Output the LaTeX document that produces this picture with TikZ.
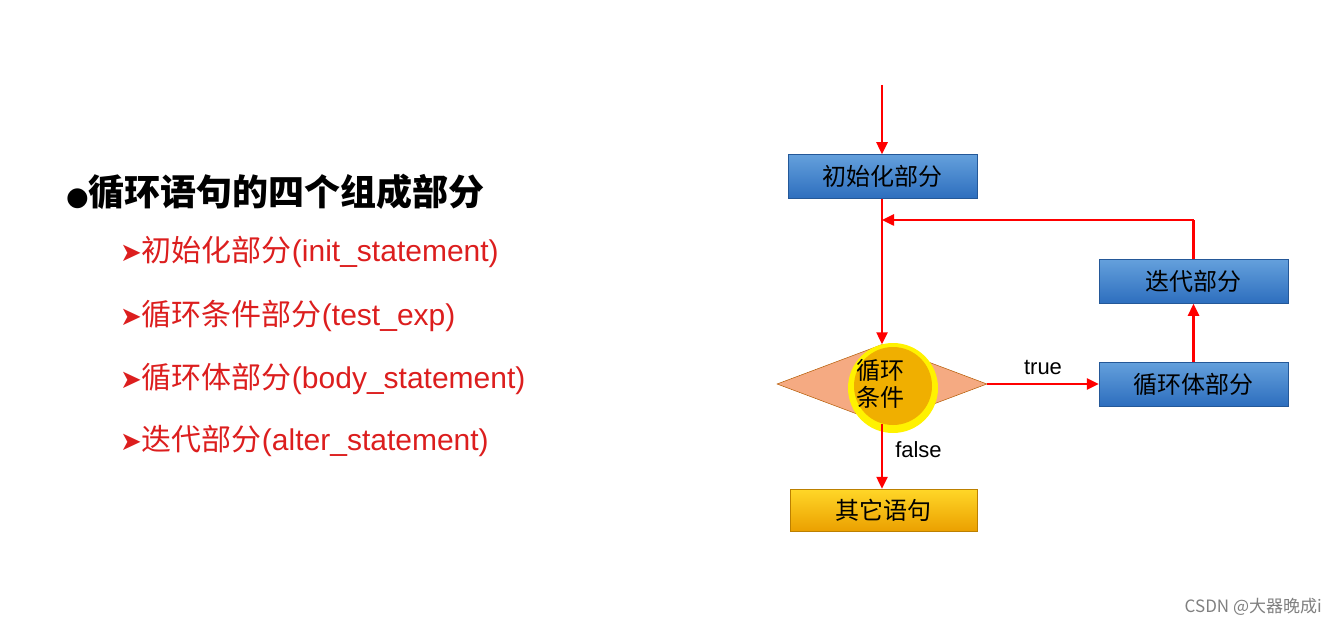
\documentclass[tikz,border=0pt]{standalone}
\usepackage{fontspec}
\setmainfont{Liberation Sans}
\newfontfamily\cjk{Noto Sans CJK SC}
\newfontfamily\djv{DejaVu Sans}
\usetikzlibrary{shapes.geometric,arrows.meta}
\definecolor{bluetop}{RGB}{100,160,220}
\definecolor{bluebot}{RGB}{45,110,190}
\definecolor{ytop}{RGB}{255,215,40}
\definecolor{ybot}{RGB}{235,160,0}
\definecolor{itemred}{RGB}{220,30,30}
\definecolor{diafill}{RGB}{245,170,130}
\definecolor{circfill}{RGB}{240,175,0}
\newcommand{\arr}{{\djv\fontsize{26}{28}\selectfont➤}}
\tikzset{
 bbox/.style={rectangle,minimum width=189pt,minimum height=44pt,top color=bluetop,bottom color=bluebot,draw=bluebot!80!black,line width=0.5pt,font=\cjk\fontsize{24}{26}\selectfont,text=black,inner sep=0pt},
 ybox/.style={bbox,top color=ytop,bottom color=ybot,draw=ybot!80!black,minimum width=187pt,minimum height=42pt},
 flow/.style={draw=red,line width=2.5pt,-{Triangle[length=12pt,width=11pt]}},
 item/.style={anchor=west,text=itemred,font=\fontsize{30}{32}\selectfont,inner sep=0pt},
 lbl/.style={font=\fontsize{22}{24}\selectfont,inner sep=0pt}
}
\begin{document}
\begin{tikzpicture}[x=1pt,y=-1pt]
\useasboundingbox (0,0) rectangle (1333,628);
\node[anchor=west,inner sep=0pt,font=\cjk\bfseries\fontsize{36}{38}\selectfont] (title) at (66,192) {{\djv\fontsize{26}{28}\selectfont●}循环语句的四个组成部分};
\node[item] (i1) at (120,252) {\arr{\cjk 初始化部分}(init\_statement)};
\node[item] (i2) at (120,316) {\arr{\cjk 循环条件部分}(test\_exp)};
\node[item] (i3) at (120,379) {\arr{\cjk 循环体部分}(body\_statement)};
\node[item] (i4) at (120,441) {\arr{\cjk 迭代部分}(alter\_statement)};

\coordinate (start) at (882,85);
\node[bbox] (init) at (882.5,176.5) {初始化部分};
\node[diamond,aspect=2.65,minimum width=210pt,minimum height=79pt,inner sep=0pt,fill=diafill,draw=orange!70!black,line width=0.5pt] (cond) at (882,384) {};
\fill[yellow] (893,388) circle (45);
\fill[circfill] (893,386) circle (39);
\node[font=\cjk\fontsize{24}{27}\selectfont,align=center,inner sep=0pt] (condt) at (880,384) {循环\\条件};
\node[bbox] (body) at (1193.5,384) {循环体部分};
\node[bbox] (iter) at (1193.5,281.5) {迭代部分};
\node[ybox] (other) at (883.5,510) {其它语句};
\coordinate (c1) at (1193.5,220);
\coordinate (c2) at (882,220);

\draw[flow] (start) -- (init.north -| start);
\draw[flow] (init.south -| start) -- (cond.north);
\draw[flow] (cond.east) -- node[lbl,above=8pt] {true} (body.west);
\draw[flow] (body.north) -- (iter.south);
\draw[draw=red,line width=2.5pt] (iter.north) -- (c1);
\draw[flow] (c1) -- (c2);
\draw[flow] (cond.south) -- node[lbl,right=12pt,pos=0.4] {false} (other.north -| cond.south);
\node[anchor=east,text=gray,font=\cjk\fontsize{17}{19}\selectfont,inner sep=0pt] (wm) at (1322,607) {CSDN @大器晚成i};
\end{tikzpicture}
\end{document}
